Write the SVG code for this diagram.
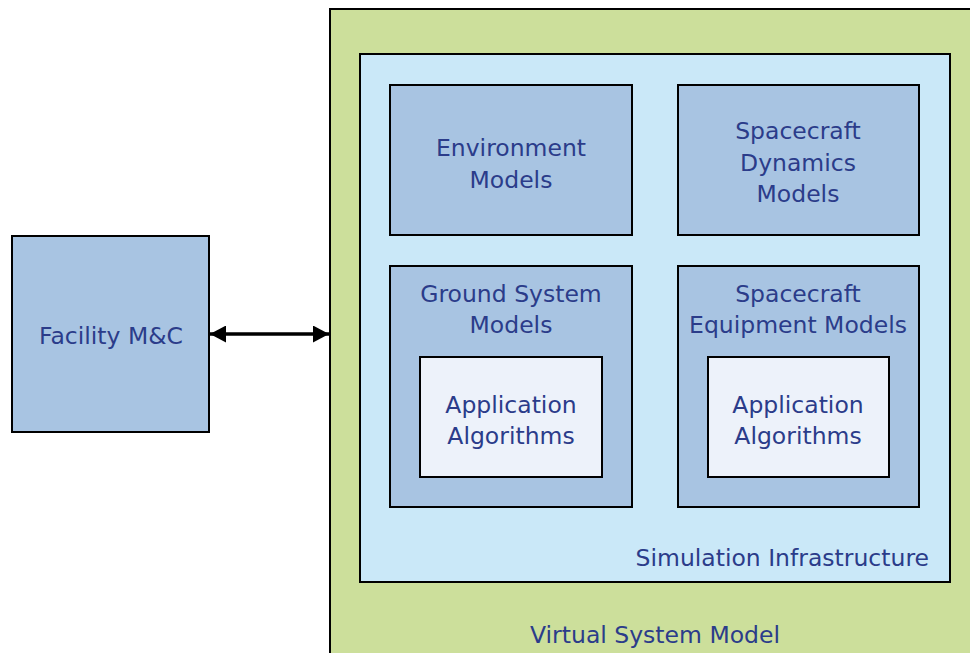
<svg xmlns="http://www.w3.org/2000/svg" width="970" height="653" viewBox="0 0 970 653">
<defs>
<style>
.box{stroke:#000;stroke-width:2}
.vsm{fill:#CCDF9B}
.sim{fill:#CAE8F8}
.mod{fill:#A8C4E2}
.app{fill:#EDF2FA}
text{font-family:"DejaVu Sans","Liberation Sans",sans-serif;font-size:23.5px;fill:#2B3C8A;text-anchor:middle}
</style>
<marker id="ah" viewBox="0 0 16 17" refX="16" refY="8.5" markerWidth="16" markerHeight="17" orient="auto-start-reverse" markerUnits="userSpaceOnUse">
<path d="M0,0 L16,8.5 L0,17 z" fill="#000"/>
</marker>
</defs>
<rect width="970" height="653" fill="#fff"/>
<g id="virtual-system-model">
<rect class="box vsm" x="330" y="9" width="660" height="660"/>
<text x="655" y="643">Virtual System Model</text>
</g>
<g id="simulation-infrastructure">
<rect class="box sim" x="360" y="54" width="590" height="528"/>
<text x="929" y="566" style="text-anchor:end">Simulation Infrastructure</text>
</g>
<g id="environment-models">
<rect class="box mod" x="390" y="85" width="242" height="150"/>
<text x="511" y="156">Environment</text>
<text x="511" y="188">Models</text>
</g>
<g id="spacecraft-dynamics-models">
<rect class="box mod" x="678" y="85" width="241" height="150"/>
<text x="798" y="139">Spacecraft</text>
<text x="798" y="171">Dynamics</text>
<text x="798" y="202">Models</text>
</g>
<g id="ground-system-models">
<rect class="box mod" x="390" y="266" width="242" height="241"/>
<text x="511" y="302">Ground System</text>
<text x="511" y="333">Models</text>
</g>
<g id="ground-application-algorithms">
<rect class="box app" x="420" y="357" width="182" height="120"/>
<text x="511" y="413">Application</text>
<text x="511" y="444">Algorithms</text>
</g>
<g id="spacecraft-equipment-models">
<rect class="box mod" x="678" y="266" width="241" height="241"/>
<text x="798" y="302">Spacecraft</text>
<text x="798" y="333">Equipment Models</text>
</g>
<g id="equipment-application-algorithms">
<rect class="box app" x="708" y="357" width="181" height="120"/>
<text x="798" y="413">Application</text>
<text x="798" y="444">Algorithms</text>
</g>
<g id="facility-mc">
<rect class="box mod" x="12" y="236" width="197" height="196"/>
<text x="111" y="344">Facility M&amp;C</text>
</g>
<g id="connectors">
<line x1="210" y1="334" x2="329" y2="334" stroke="#000" stroke-width="3.5" marker-start="url(#ah)" marker-end="url(#ah)"/>
</g>
</svg>
